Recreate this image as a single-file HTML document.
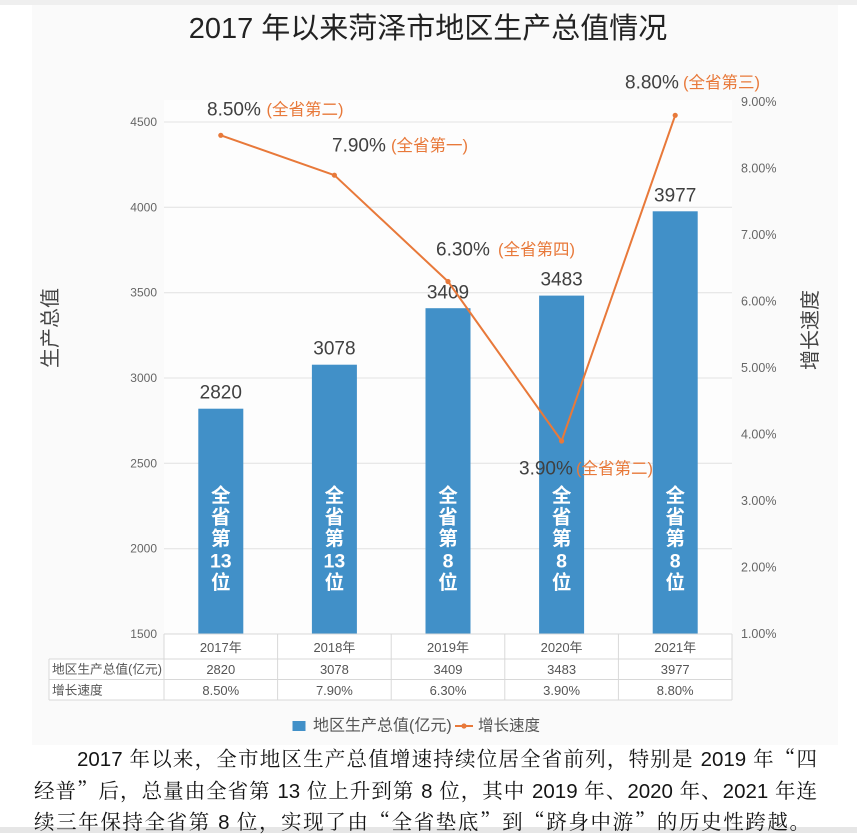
<!DOCTYPE html>
<html>
<head>
<meta charset="utf-8">
<style>
  html,body{margin:0;padding:0;}
  body{width:857px;height:833px;position:relative;overflow:hidden;background:#ffffff;
       font-family:"Liberation Sans","Noto Sans CJK SC",sans-serif;}
  svg{position:absolute;left:0;top:0;}
  .para{position:absolute;font-family:"Liberation Sans","Noto Serif CJK SC",serif;font-size:20.5px;color:#151515;
        white-space:nowrap;line-height:24px;height:24px;text-align:justify;text-align-last:justify;}
  .q{font-family:"Noto Serif CJK SC","Noto Sans CJK SC",serif;}
</style>
</head>
<body>
<svg width="857" height="833" viewBox="0 0 857 833" xmlns="http://www.w3.org/2000/svg">
  <rect x="0" y="0" width="857" height="5" fill="#efefef"/>
  <rect x="32" y="5" width="806" height="740" fill="#fafafa"/>
  <rect x="164" y="100" width="568" height="534" fill="#fdfdfd"/>
  <rect x="0" y="827" width="857" height="6" fill="#e6e6e6"/>

  <text x="428" y="29" text-anchor="middle" dominant-baseline="central" font-size="29" fill="#222"
        font-family="Liberation Sans, Noto Sans CJK SC, sans-serif">2017 年以来菏泽市地区生产总值情况</text>

  <g stroke="#e2e2e2" stroke-width="1">
    <line x1="164" y1="122" x2="732" y2="122"/>
    <line x1="164" y1="207.3" x2="732" y2="207.3"/>
    <line x1="164" y1="292.7" x2="732" y2="292.7"/>
    <line x1="164" y1="378" x2="732" y2="378"/>
    <line x1="164" y1="463.3" x2="732" y2="463.3"/>
    <line x1="164" y1="548.7" x2="732" y2="548.7"/>
  </g>

  <g font-size="12" fill="#666" text-anchor="end" dominant-baseline="central">
    <text x="157" y="122">4500</text>
    <text x="157" y="207.3">4000</text>
    <text x="157" y="292.7">3500</text>
    <text x="157" y="378">3000</text>
    <text x="157" y="463.3">2500</text>
    <text x="157" y="548.7">2000</text>
    <text x="157" y="634">1500</text>
  </g>
  <g font-size="12.5" fill="#666" text-anchor="start" dominant-baseline="central">
    <text x="741" y="102">9.00%</text>
    <text x="741" y="168.5">8.00%</text>
    <text x="741" y="235">7.00%</text>
    <text x="741" y="301.5">6.00%</text>
    <text x="741" y="368">5.00%</text>
    <text x="741" y="434.5">4.00%</text>
    <text x="741" y="501">3.00%</text>
    <text x="741" y="567.5">2.00%</text>
    <text x="741" y="634">1.00%</text>
  </g>

  <text transform="translate(51,328) rotate(-90)" text-anchor="middle" dominant-baseline="central"
        font-size="20" fill="#444">生产总值</text>
  <text transform="translate(811,330) rotate(-90)" text-anchor="middle" dominant-baseline="central"
        font-size="20" fill="#444">增长速度</text>

  <g fill="#4190c8">
    <rect x="198.3" y="408.7" width="45" height="225.3"/>
    <rect x="311.9" y="364.7" width="45" height="269.3"/>
    <rect x="425.5" y="308.2" width="45" height="325.8"/>
    <rect x="539.1" y="295.6" width="45" height="338.4"/>
    <rect x="652.7" y="211.3" width="45" height="422.7"/>
  </g>

  <g font-size="19.5" font-weight="bold" fill="#ffffff" text-anchor="middle" dominant-baseline="central"
     font-family="Liberation Sans, Noto Sans CJK SC, sans-serif">
    <text x="220.8" y="496">全</text><text x="220.8" y="517.5">省</text><text x="220.8" y="539">第</text><text x="220.8" y="561.5">13</text><text x="220.8" y="583">位</text>
    <text x="334.4" y="496">全</text><text x="334.4" y="517.5">省</text><text x="334.4" y="539">第</text><text x="334.4" y="561.5">13</text><text x="334.4" y="583">位</text>
    <text x="448" y="496">全</text><text x="448" y="517.5">省</text><text x="448" y="539">第</text><text x="448" y="561.5">8</text><text x="448" y="583">位</text>
    <text x="561.6" y="496">全</text><text x="561.6" y="517.5">省</text><text x="561.6" y="539">第</text><text x="561.6" y="561.5">8</text><text x="561.6" y="583">位</text>
    <text x="675.2" y="496">全</text><text x="675.2" y="517.5">省</text><text x="675.2" y="539">第</text><text x="675.2" y="561.5">8</text><text x="675.2" y="583">位</text>
  </g>

  <g font-size="19" fill="#404040" text-anchor="middle" dominant-baseline="central">
    <text x="220.8" y="393">2820</text>
    <text x="334.4" y="349">3078</text>
    <text x="448" y="293">3409</text>
    <text x="561.6" y="280">3483</text>
    <text x="675.2" y="196">3977</text>
  </g>

  <polyline points="220.8,135.3 334.4,175.2 448,281.5 561.6,441 675.2,115.3" fill="none"
            stroke="#e8793a" stroke-width="2" stroke-linejoin="round"/>
  <g fill="#e8793a">
    <circle cx="220.8" cy="135.3" r="2.6"/>
    <circle cx="334.4" cy="175.2" r="2.6"/>
    <circle cx="448" cy="281.5" r="2.6"/>
    <circle cx="561.6" cy="441" r="2.6"/>
    <circle cx="675.2" cy="115.3" r="2.6"/>
  </g>

  <g font-size="19" fill="#404040" dominant-baseline="central">
    <text x="207" y="110">8.50%</text>
    <text x="332" y="146">7.90%</text>
    <text x="436" y="250">6.30%</text>
    <text x="519" y="469">3.90%</text>
    <text x="625" y="83">8.80%</text>
  </g>
  <g font-size="16.5" fill="#e8793a" dominant-baseline="central">
    <text x="266.5" y="110">(全省第二)</text>
    <text x="391" y="146">(全省第一)</text>
    <text x="498" y="250">(全省第四)</text>
    <text x="576" y="469">(全省第二)</text>
    <text x="683" y="83">(全省第三)</text>
  </g>

  <rect x="164" y="634" width="568" height="66" fill="#ffffff"/>
  <rect x="49" y="659" width="115" height="41" fill="#ffffff"/>
  <g stroke="#d8d8d8" stroke-width="1" fill="none">
    <line x1="164" y1="634" x2="732" y2="634"/>
    <line x1="49" y1="659" x2="732" y2="659"/>
    <line x1="49" y1="679.5" x2="732" y2="679.5"/>
    <line x1="49" y1="700" x2="732" y2="700"/>
    <line x1="49" y1="659" x2="49" y2="700"/>
    <line x1="164" y1="634" x2="164" y2="700"/>
    <line x1="277.6" y1="634" x2="277.6" y2="700"/>
    <line x1="391.2" y1="634" x2="391.2" y2="700"/>
    <line x1="504.8" y1="634" x2="504.8" y2="700"/>
    <line x1="618.4" y1="634" x2="618.4" y2="700"/>
    <line x1="732" y1="634" x2="732" y2="700"/>
  </g>
  <g font-size="13" fill="#555" text-anchor="middle" dominant-baseline="central">
    <text x="220.8" y="647.5">2017年</text>
    <text x="334.4" y="647.5">2018年</text>
    <text x="448" y="647.5">2019年</text>
    <text x="561.6" y="647.5">2020年</text>
    <text x="675.2" y="647.5">2021年</text>
    <text x="220.8" y="669.5">2820</text>
    <text x="334.4" y="669.5">3078</text>
    <text x="448" y="669.5">3409</text>
    <text x="561.6" y="669.5">3483</text>
    <text x="675.2" y="669.5">3977</text>
    <text x="220.8" y="690.5">8.50%</text>
    <text x="334.4" y="690.5">7.90%</text>
    <text x="448" y="690.5">6.30%</text>
    <text x="561.6" y="690.5">3.90%</text>
    <text x="675.2" y="690.5">8.80%</text>
  </g>
  <g font-size="12.7" fill="#555" dominant-baseline="central">
    <text x="52" y="669.5">地区生产总值(亿元)</text>
    <text x="52" y="690.5">增长速度</text>
  </g>

  <rect x="292.5" y="721" width="13" height="10" fill="#4190c8"/>
  <text x="313" y="726" font-size="16" fill="#555" dominant-baseline="central">地区生产总值(亿元)</text>
  <line x1="455" y1="726" x2="473" y2="726" stroke="#e8793a" stroke-width="2"/>
  <circle cx="464" cy="726" r="2.6" fill="#e8793a"/>
  <text x="478" y="726" font-size="15.5" fill="#555" dominant-baseline="central">增长速度</text>
</svg>

<div class="para" style="left:77px;top:745px;width:740px;">2017 年以来，全市地区生产总值增速持续位居全省前列，特别是 2019 年<span class="q">“</span>四</div>
<div class="para" style="left:34px;top:777px;width:783px;">经普<span class="q">”</span>后，总量由全省第 13 位上升到第 8 位，其中 2019 年、2020 年、2021 年连</div>
<div class="para" style="left:34px;top:808px;width:776px;">续三年保持全省第 8 位，实现了由<span class="q">“</span>全省垫底<span class="q">”</span>到<span class="q">“</span>跻身中游<span class="q">”</span>的历史性跨越。</div>
</body>
</html>
